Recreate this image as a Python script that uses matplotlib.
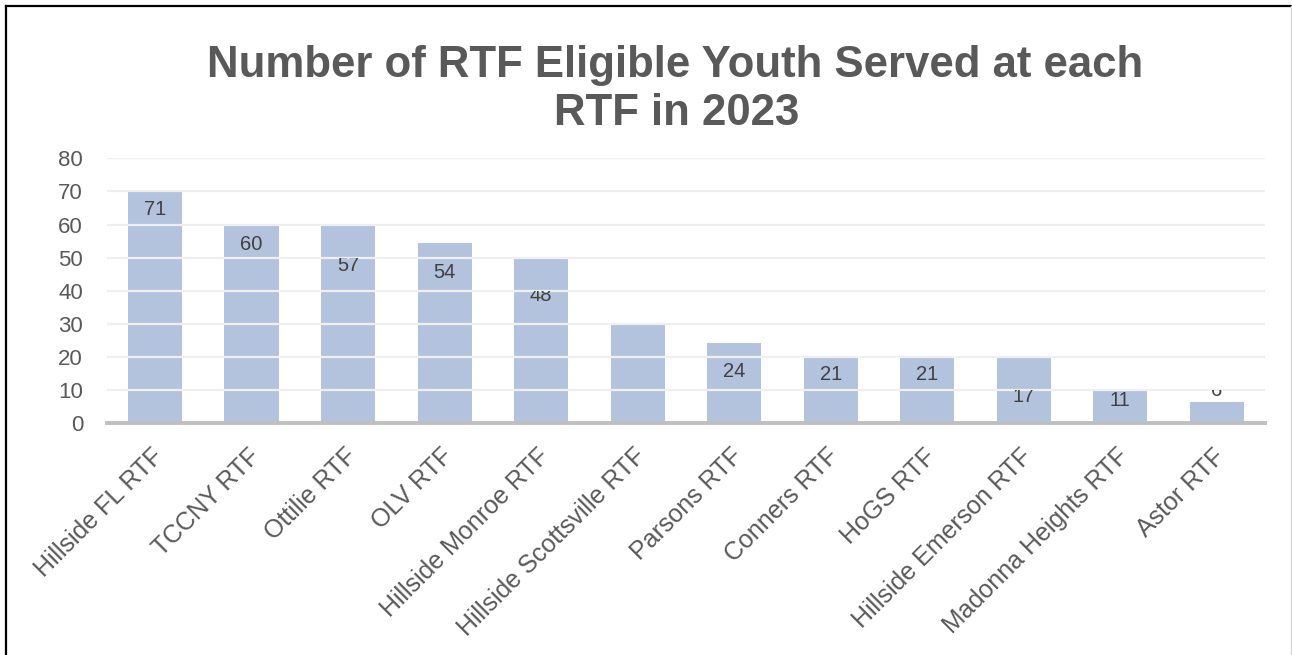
import numpy as np
import matplotlib
matplotlib.use("Agg")
import matplotlib.pyplot as plt
from matplotlib.lines import Line2D
from matplotlib.transforms import Bbox, TransformedBbox, ScaledTranslation

# data
facilities = ["Hillside FL RTF", "TCCNY RTF", "Ottilie RTF", "OLV RTF",
              "Hillside Monroe RTF", "Hillside Scottsville RTF", "Parsons RTF",
              "Conners RTF", "HoGS RTF", "Hillside Emerson RTF",
              "Madonna Heights RTF", "Astor RTF"]
bar_heights = [70, 60, 60, 54.4, 50, 30, 24.3, 20, 20, 20, 10, 6.5]
label_values = ["71", "60", "57", "54", "48", "", "24", "21", "21", "17", "11", "6"]

# where each value label sits (data units), as drawn in the reference
label_y = [64.5, 54.1, 47.6, 45.4, 38.6, 0, 15.5, 14.6, 14.6, 8.0, 6.8, 9.9]

title_color = "#595959"
bar_color = "#b3c3de"

plt.rcParams["font.family"] = ["Liberation Sans", "DejaVu Sans"]

fig = plt.figure(figsize=(12.92, 6.55), dpi=100)
ax = fig.add_axes([106.7 / 1292, 1 - 423.3 / 655, (1265 - 106.7) / 1292, 265 / 655])

x = np.arange(len(facilities))
ax.bar(x, bar_heights, width=0.56, color=bar_color, zorder=2)

ax.set_xlim(-0.5, len(facilities) - 0.5)
ax.set_ylim(0, 80)
ax.set_yticks(range(0, 81, 10))
for yv in range(10, 81, 10):
    ax.axhline(yv, color="#efefef", lw=1.6, zorder=3)

for spine in ["left", "right", "top"]:
    ax.spines[spine].set_visible(False)
ax.spines["bottom"].set_color("#bfbfbf")
ax.spines["bottom"].set_linewidth(2.8)
ax.spines["bottom"].set_zorder(5)

ax.tick_params(axis="y", length=0, pad=17, labelsize=16, labelcolor=title_color)
ax.tick_params(axis="x", length=0, pad=15, labelsize=18, labelcolor=title_color)
ax.set_xticks(x)
ax.set_xticklabels(facilities, rotation=45, ha="right", va="top",
                   rotation_mode="anchor")
shift = ScaledTranslation(-4 / 100, 0, fig.dpi_scale_trans)
for lab in ax.get_xticklabels():
    lab.set_transform(lab.get_transform() + shift)

# value labels, partly hidden by the grid band above them
for xi, txt, ly in zip(x, label_values, label_y):
    if not txt:
        continue
    t = ax.text(xi, ly, txt, ha="center", va="center", fontsize=14.5,
                color="#404040", zorder=4)
    top = np.ceil(ly / 10) * 10
    t.set_clip_path(None)
    t.set_clip_box(TransformedBbox(Bbox([[xi - 0.5, 0], [xi + 0.5, top]]),
                                   ax.transData))
    t.set_clip_on(True)

fig.text(675 / 1292, 1 - 77.3 / 655, "Number of RTF Eligible Youth Served at each",
         ha="center", va="baseline", fontsize=31.5, fontweight="bold",
         color=title_color)
fig.text(677 / 1292, 1 - 125 / 655, "RTF in 2023",
         ha="center", va="baseline", fontsize=31.5, fontweight="bold",
         color=title_color)

# frame of the pasted chart
fig.add_artist(Line2D([6 / 1292, 6 / 1292], [0, 1 - 6 / 655], color="black", lw=1.6))
fig.add_artist(Line2D([6 / 1292, 1], [1 - 6 / 655, 1 - 6 / 655], color="black", lw=1.6))
fig.add_artist(Line2D([1290.5 / 1292, 1290.5 / 1292], [0, 1 - 6 / 655],
                      color="#d9d9d9", lw=1))

fig.savefig("out.png", dpi=100)
